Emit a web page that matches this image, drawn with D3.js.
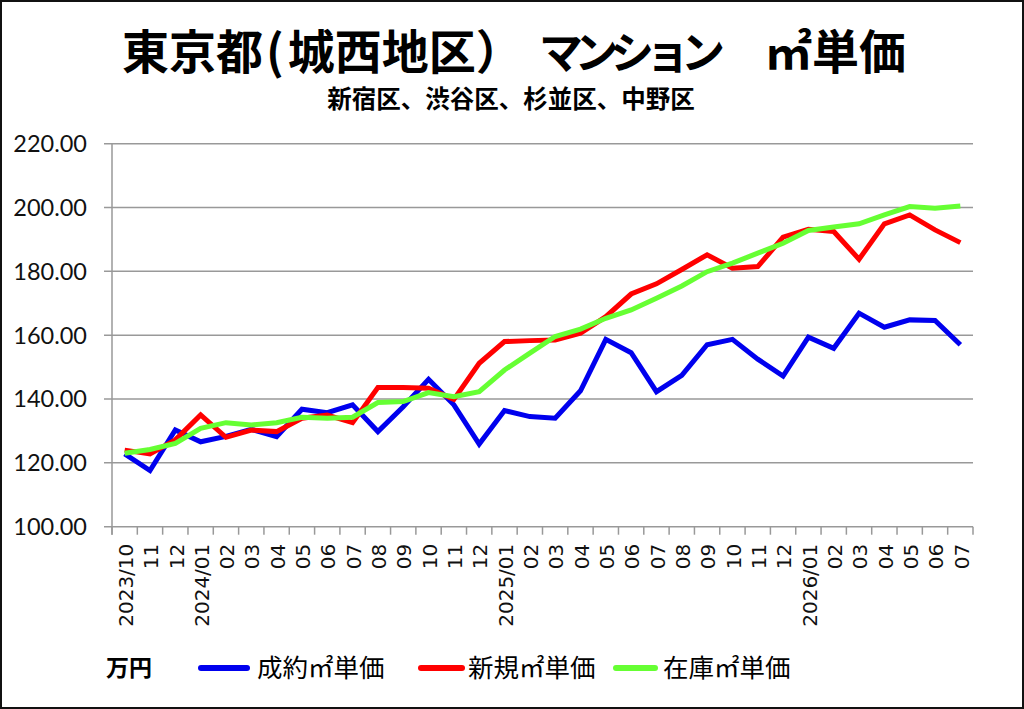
<!DOCTYPE html>
<html>
<head>
<meta charset="utf-8">
<script src="https://cdn.jsdelivr.net/npm/d3@7"></script>
<style>
  body { margin: 0; background: #fff; }
  svg { display: block; }
</style>
</head>
<body>
<svg id="chart"></svg>
<script>
// months shown on the category axis
const categories = [
  "2023/10", "11", "12",
  "2024/01", "02", "03", "04", "05", "06", "07", "08", "09", "10", "11", "12",
  "2025/01", "02", "03", "04", "05", "06", "07", "08", "09", "10", "11", "12",
  "2026/01", "02", "03", "04", "05", "06", "07"
];

// 成約㎡単価 (万円)
const seiyaku = [122.8, 117.6, 130.3, 126.6, 128.3, 130.5, 128.2, 136.8, 135.7, 138.2,
  129.8, 137.6, 146.2, 138.2, 125.9, 136.4, 134.5, 134.0, 142.6, 158.7,
  154.5, 142.3, 147.4, 157.0, 158.7, 152.5, 147.2, 159.4, 155.9, 166.9,
  162.5, 164.8, 164.6, 157.0];

// 新規㎡単価
const shinki = [124.0, 122.8, 127.2, 135.0, 128.0, 130.3, 129.8, 134.0, 135.0, 132.6,
  143.6, 143.6, 143.4, 139.9, 151.2, 158.0, 158.3, 158.5, 160.6, 165.8,
  172.9, 176.1, 180.6, 185.2, 181.0, 181.5, 190.7, 193.2, 192.5, 183.8,
  194.9, 197.7, 193.0, 189.0];

// 在庫㎡単価
const zaiko = [123.0, 124.2, 126.1, 130.8, 132.6, 131.9, 132.6, 134.3, 134.0, 134.3,
  138.9, 139.2, 142.0, 140.7, 142.3, 149.1, 154.4, 159.6, 161.9, 165.3,
  167.9, 171.6, 175.4, 179.9, 182.6, 185.7, 188.8, 192.8, 193.9, 194.9,
  197.7, 200.3, 199.8, 200.5];

const yTicks = [100, 120, 140, 160, 180, 200, 220];

const seriesNames = ["成約㎡単価", "新規㎡単価", "在庫㎡単価"];
const seriesColors = ["#0000ee", "#ff0000", "#66ff33"];

const width = 1024, height = 709;
const margin = { top: 143.7, right: 51, bottom: 182.3, left: 112 };

const svg = d3.select("#chart")
  .attr("width", width)
  .attr("height", height);

svg.append("rect")
  .attr("x", 1).attr("y", 1)
  .attr("width", width - 2).attr("height", height - 2)
  .attr("fill", "#fff")
  .attr("stroke", "#111")
  .attr("stroke-width", 2);

const x = d3.scaleBand()
  .domain(d3.range(categories.length))
  .range([margin.left, width - margin.right])
  .padding(0);

const y = d3.scaleLinear()
  .domain([100, 220])
  .range([height - margin.bottom, margin.top]);

const gridColor = "#999";

// horizontal grid + y ticks
svg.append("g")
  .selectAll("line")
  .data(yTicks)
  .enter().append("line")
  .attr("x1", margin.left - 8)
  .attr("x2", width - margin.right)
  .attr("y1", d => y(d))
  .attr("y2", d => y(d))
  .attr("stroke", gridColor)
  .attr("stroke-width", 1.5);

// y axis line
svg.append("line")
  .attr("x1", margin.left).attr("x2", margin.left)
  .attr("y1", y(220)).attr("y2", y(100) + 8)
  .attr("stroke", gridColor)
  .attr("stroke-width", 1.5);

// y labels
svg.append("g")
  .selectAll("text")
  .data(yTicks)
  .enter().append("text")
  .attr("x", margin.left - 25)
  .attr("y", d => y(d))
  .attr("dy", "0.36em")
  .attr("text-anchor", "end")
  .attr("font-family", "Lato, 'Open Sans', sans-serif")
  .attr("font-size", 23.5)
  .attr("fill", "#111")
  .text(d => d3.format(".2f")(d));

// x ticks at category boundaries
const boundaries = d3.range(categories.length + 1).map(i =>
  i < categories.length ? x(i) : x.range()[1]);

svg.append("g")
  .selectAll("line")
  .data(boundaries)
  .enter().append("line")
  .attr("x1", d => d).attr("x2", d => d)
  .attr("y1", y(100)).attr("y2", y(100) + 8)
  .attr("stroke", gridColor)
  .attr("stroke-width", 1.5);

// x labels, rotated
svg.append("g")
  .selectAll("text")
  .data(categories)
  .enter().append("text")
  .attr("transform", (d, i) =>
    `translate(${x(i) + x.bandwidth() / 2 + 1},${y(100) + 17}) rotate(-90)`)
  .attr("dy", "0.36em")
  .attr("text-anchor", "end")
  .attr("font-family", "'DejaVu Sans', sans-serif")
  .attr("font-size", 20)
  .attr("fill", "#111")
  .text(d => d);

// lines
const line = d3.line()
  .x((d, i) => x(i) + x.bandwidth() / 2)
  .y(d => y(d));

[seiyaku, shinki, zaiko].forEach((vals, k) => {
  svg.append("path")
    .datum(vals)
    .attr("d", line)
    .attr("fill", "none")
    .attr("stroke", seriesColors[k])
    .attr("stroke-width", 5)
    .attr("stroke-linejoin", "miter");
});

// titles
const cjk = "'Noto Sans CJK JP', 'Noto Sans', sans-serif";

const title = svg.append("g")
  .attr("font-family", cjk)
  .attr("font-weight", 700)
  .attr("font-size", 47)
  .attr("fill", "#000");

const t1 = title.append("text").attr("x", 122).attr("y", 69);
t1.append("tspan").text("東京都");
t1.append("tspan").attr("dx", 3).text("(");
t1.append("tspan").attr("dx", 4).text("城西地区）");

// katakana in the source font are narrower than full width
title.append("text")
  .attr("x", 539).attr("y", 69)
  .attr("font-size", 44)
  .attr("textLength", 186)
  .attr("lengthAdjust", "spacing")
  .text("マンション");
title.append("text").attr("x", 765).attr("y", 69).text("㎡単価");

svg.append("text")
  .attr("x", 511)
  .attr("y", 108)
  .attr("text-anchor", "middle")
  .attr("font-family", cjk)
  .attr("font-weight", 700)
  .attr("font-size", 24.5)
  .attr("fill", "#000")
  .text("新宿区、渋谷区、杉並区、中野区");

// legend
svg.append("text")
  .attr("x", 106)
  .attr("y", 676)
  .attr("font-family", cjk)
  .attr("font-weight", 700)
  .attr("font-size", 23)
  .attr("fill", "#000")
  .text("万円");

const legendLine = [[201, 247], [421, 462], [616, 655]];
const legendText = [257, 468, 663];

const legend = svg.append("g")
  .selectAll("g")
  .data(seriesNames)
  .enter().append("g");

legend.append("line")
  .attr("x1", (d, i) => legendLine[i][0])
  .attr("x2", (d, i) => legendLine[i][1])
  .attr("y1", 668).attr("y2", 668)
  .attr("stroke", (d, i) => seriesColors[i])
  .attr("stroke-width", 6)
  .attr("stroke-linecap", "round");

legend.append("text")
  .attr("x", (d, i) => legendText[i])
  .attr("y", 677)
  .attr("font-family", cjk)
  .attr("font-size", 25.5)
  .attr("fill", "#000")
  .text(d => d);
</script>
</body>
</html>
